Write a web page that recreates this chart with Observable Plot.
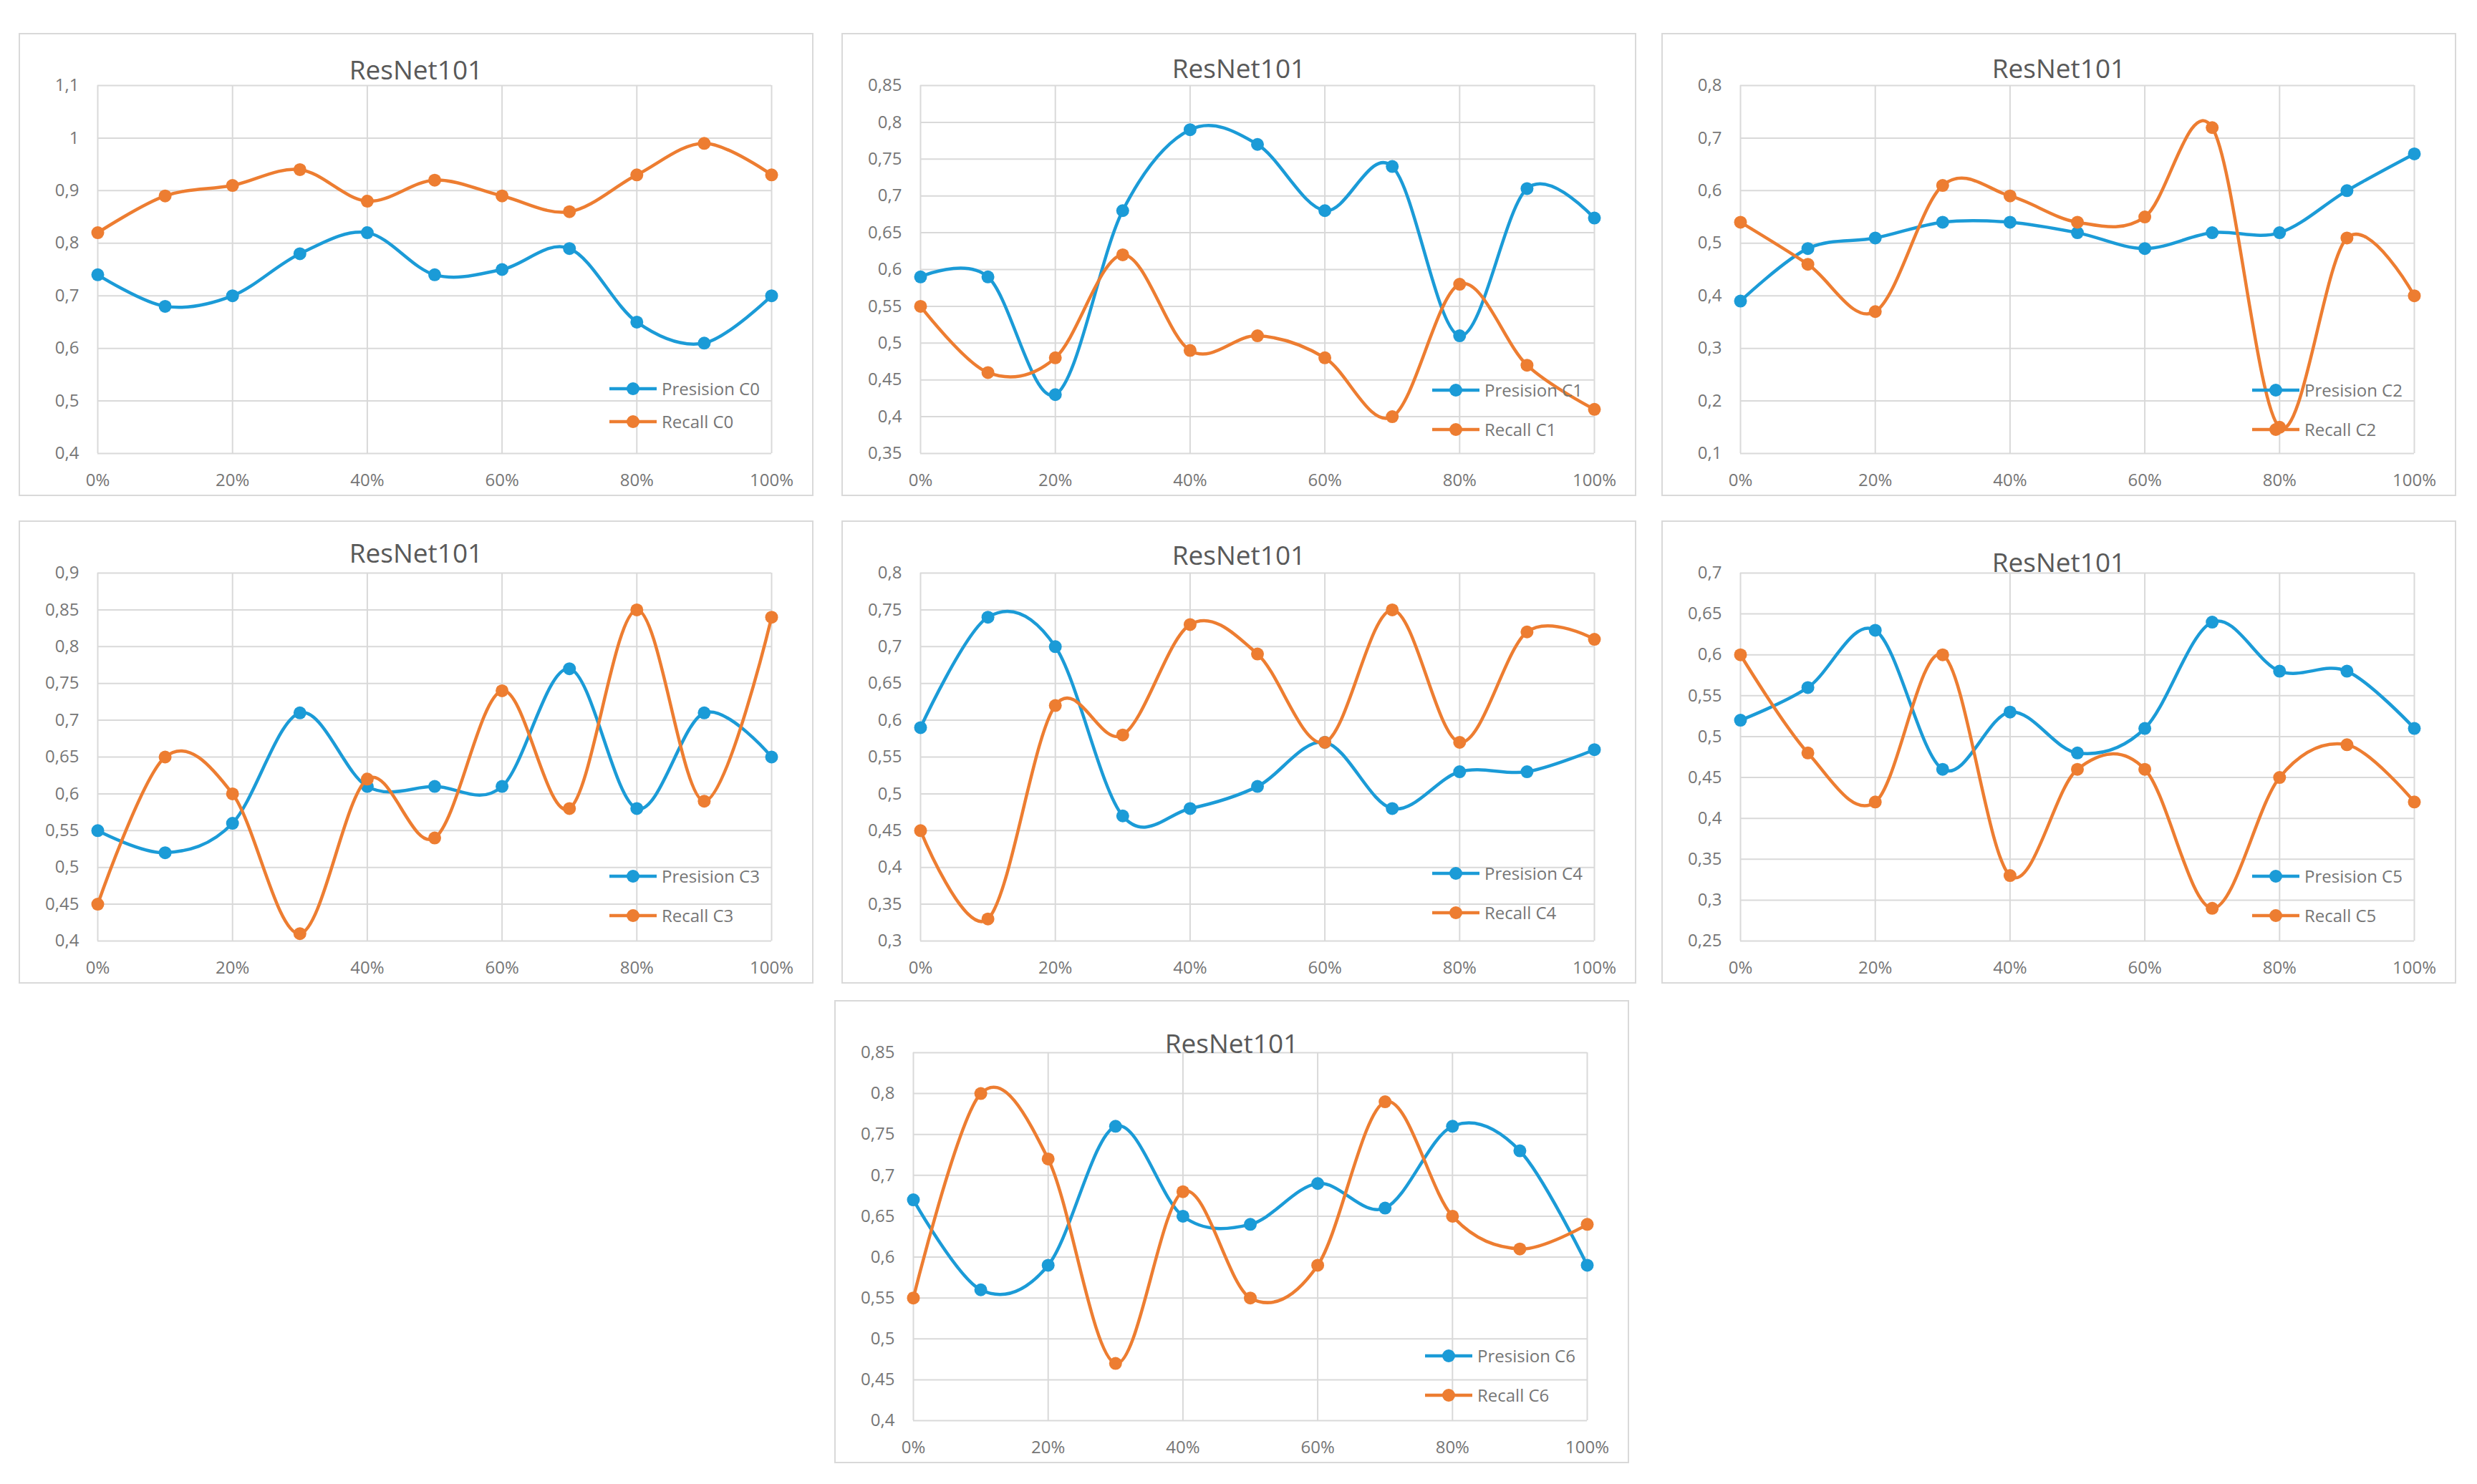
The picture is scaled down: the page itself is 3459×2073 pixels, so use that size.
<!DOCTYPE html>
<html>
<head>
<meta charset="utf-8">
<script src="https://cdn.jsdelivr.net/npm/d3@7"></script>
<script src="https://cdn.jsdelivr.net/npm/@observablehq/plot@0.6"></script>
<style>
html, body { margin: 0; padding: 0; background: #ffffff; }
#root { position: relative; width: 3459px; height: 2073px; font-family: "Open Sans", sans-serif; background: #fff; }
.panel { position: absolute; width: 1110px; height: 647px; box-sizing: border-box; border: 2px solid #d9d9d9; background: #fff; }
.panel svg.chart { position: absolute; left: 0; top: 0; }
.title { position: absolute; left: 0; width: 100%; text-align: center; font-size: 37px; color: #595959; line-height: 1; transform: translateY(-50%); }
.legrow { position: absolute; display: flex; align-items: center; font-size: 24px; color: #767676; line-height: 1; transform: translateY(-50%); }
.legrow svg { display: block; margin-right: 6px; }
</style>
</head>
<body>
<div id="root"></div>
<script>
// ---- data ----
const xPct = [0, 10, 20, 30, 40, 50, 60, 70, 80, 90, 100];
const xTicks = [0, 20, 40, 60, 80, 100];
const xTickLabels = ["0%", "20%", "40%", "60%", "80%", "100%"];
const chartTitle = "ResNet101";
const classNames = ["C0", "C1", "C2", "C3", "C4", "C5", "C6"];

const precisionC0 = [0.74, 0.68, 0.70, 0.78, 0.82, 0.74, 0.75, 0.79, 0.65, 0.61, 0.70];
const recallC0    = [0.82, 0.89, 0.91, 0.94, 0.88, 0.92, 0.89, 0.86, 0.93, 0.99, 0.93];
const precisionC1 = [0.59, 0.59, 0.43, 0.68, 0.79, 0.77, 0.68, 0.74, 0.51, 0.71, 0.67];
const recallC1    = [0.55, 0.46, 0.48, 0.62, 0.49, 0.51, 0.48, 0.40, 0.58, 0.47, 0.41];
const precisionC2 = [0.39, 0.49, 0.51, 0.54, 0.54, 0.52, 0.49, 0.52, 0.52, 0.60, 0.67];
const recallC2    = [0.54, 0.46, 0.37, 0.61, 0.59, 0.54, 0.55, 0.72, 0.15, 0.51, 0.40];
const precisionC3 = [0.55, 0.52, 0.56, 0.71, 0.61, 0.61, 0.61, 0.77, 0.58, 0.71, 0.65];
const recallC3    = [0.45, 0.65, 0.60, 0.41, 0.62, 0.54, 0.74, 0.58, 0.85, 0.59, 0.84];
const precisionC4 = [0.59, 0.74, 0.70, 0.47, 0.48, 0.51, 0.57, 0.48, 0.53, 0.53, 0.56];
const recallC4    = [0.45, 0.33, 0.62, 0.58, 0.73, 0.69, 0.57, 0.75, 0.57, 0.72, 0.71];
const precisionC5 = [0.52, 0.56, 0.63, 0.46, 0.53, 0.48, 0.51, 0.64, 0.58, 0.58, 0.51];
const recallC5    = [0.60, 0.48, 0.42, 0.60, 0.33, 0.46, 0.46, 0.29, 0.45, 0.49, 0.42];
const precisionC6 = [0.67, 0.56, 0.59, 0.76, 0.65, 0.64, 0.69, 0.66, 0.76, 0.73, 0.59];
const recallC6    = [0.55, 0.80, 0.72, 0.47, 0.68, 0.55, 0.59, 0.79, 0.65, 0.61, 0.64];

const yTicksC0 = [0.4, 0.5, 0.6, 0.7, 0.8, 0.9, 1.0, 1.1];
const yTicksC1 = [0.35, 0.4, 0.45, 0.5, 0.55, 0.6, 0.65, 0.7, 0.75, 0.8, 0.85];
const yTicksC2 = [0.1, 0.2, 0.3, 0.4, 0.5, 0.6, 0.7, 0.8];
const yTicksC3 = [0.4, 0.45, 0.5, 0.55, 0.6, 0.65, 0.7, 0.75, 0.8, 0.85, 0.9];
const yTicksC4 = [0.3, 0.35, 0.4, 0.45, 0.5, 0.55, 0.6, 0.65, 0.7, 0.75, 0.8];
const yTicksC5 = [0.25, 0.3, 0.35, 0.4, 0.45, 0.5, 0.55, 0.6, 0.65, 0.7];
const yTicksC6 = [0.4, 0.45, 0.5, 0.55, 0.6, 0.65, 0.7, 0.75, 0.8, 0.85];

const precisionSeries = [precisionC0, precisionC1, precisionC2, precisionC3, precisionC4, precisionC5, precisionC6];
const recallSeries = [recallC0, recallC1, recallC2, recallC3, recallC4, recallC5, recallC6];
const yTickSets = [yTicksC0, yTicksC1, yTicksC2, yTicksC3, yTicksC4, yTicksC5, yTicksC6];

// ---- layout & style ----
const layout = [
  {left: 26,   top: 46,   titleY: 48, leg1: 495, leg2: 541},
  {left: 1175, top: 46,   titleY: 46, leg1: 497, leg2: 552},
  {left: 2320, top: 46,   titleY: 46, leg1: 497, leg2: 552},
  {left: 26,   top: 727,  titleY: 42, leg1: 495, leg2: 550},
  {left: 1175, top: 727,  titleY: 45, leg1: 491, leg2: 546},
  {left: 2320, top: 727,  titleY: 55, leg1: 495, leg2: 550},
  {left: 1165, top: 1397, titleY: 57, leg1: 495, leg2: 550}
];
const BLUE = "#1b9bd7";
const ORANGE = "#ed7d31";
const GRID = "#d9d9d9";
const W = 1106, H = 643;

const yFmt = d => String(Math.round(d * 100) / 100).replace(".", ",");

const root = document.getElementById("root");

classNames.forEach((cls, i) => {
  const L = layout[i];
  const yTicks = yTickSets[i];
  const pData = xPct.map((x, k) => ({x, y: precisionSeries[i][k]}));
  const rData = xPct.map((x, k) => ({x, y: recallSeries[i][k]}));

  const panel = document.createElement("div");
  panel.className = "panel";
  panel.style.left = L.left + "px";
  panel.style.top = L.top + "px";

  const chart = Plot.plot({
    width: W,
    height: H,
    marginLeft: 108,
    marginRight: 57,
    marginTop: 71,
    marginBottom: 58,
    style: {fontFamily: "'Open Sans', sans-serif", fontSize: "24px", color: "#767676", background: "transparent"},
    x: {domain: [0, 100]},
    y: {domain: [yTicks[0], yTicks[yTicks.length - 1]]},
    marks: [
      Plot.gridY(yTicks, {stroke: GRID, strokeOpacity: 1, strokeWidth: 2}),
      Plot.gridX(xTicks, {stroke: GRID, strokeOpacity: 1, strokeWidth: 2}),
      Plot.axisY(yTicks, {tickSize: 0, tickPadding: 26, tickFormat: yFmt, label: null}),
      Plot.axisX(xTicks, {tickSize: 0, tickPadding: 28, tickFormat: (d, k) => xTickLabels[k], label: null}),
      Plot.line(pData, {x: "x", y: "y", stroke: BLUE, strokeWidth: 4.5, curve: "cardinal", tension: 0}),
      Plot.dot(pData, {x: "x", y: "y", fill: BLUE, r: 9}),
      Plot.line(rData, {x: "x", y: "y", stroke: ORANGE, strokeWidth: 4.5, curve: "cardinal", tension: 0}),
      Plot.dot(rData, {x: "x", y: "y", fill: ORANGE, r: 9})
    ]
  });
  chart.classList.add("chart");
  panel.appendChild(chart);

  const title = document.createElement("div");
  title.className = "title";
  title.style.top = L.titleY + "px";
  title.textContent = chartTitle;
  panel.appendChild(title);

  [["Presision " + cls, BLUE, L.leg1], ["Recall " + cls, ORANGE, L.leg2]].forEach(([label, color, y]) => {
    const row = document.createElement("div");
    row.className = "legrow";
    row.style.left = "822px";
    row.style.top = y + "px";
    row.innerHTML = `<svg width="68" height="20"><line x1="1" y1="10" x2="67" y2="10" stroke="${color}" stroke-width="4.5"/><circle cx="34" cy="10" r="9" fill="${color}"/></svg><span>${label}</span>`;
    panel.appendChild(row);
  });

  root.appendChild(panel);
});
</script>
</body>
</html>
